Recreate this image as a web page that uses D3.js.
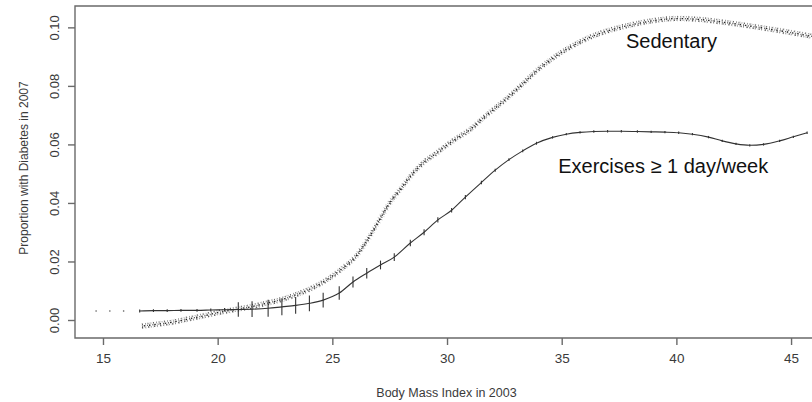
<!DOCTYPE html>
<html>
<head>
<meta charset="utf-8">
<script src="https://cdn.jsdelivr.net/npm/d3@7"></script>
<style>
  html, body { margin: 0; padding: 0; background: #fff; }
  svg { display: block; font-family: "Liberation Sans", Arial, sans-serif; }
</style>
</head>
<body>
<svg id="chart" width="812" height="402"></svg>
<script>
// ---- data ----
const xTicks = [15, 20, 25, 30, 35, 40, 45];
const yTicks = [0.00, 0.02, 0.04, 0.06, 0.08, 0.10];
const yTickLabels = ["0.00", "0.02", "0.04", "0.06", "0.08", "0.10"];

// Sedentary group (BMI 2003 vs proportion diabetic 2007)
const sedBmi = [16.7,17,17.5,18,18.5,19,19.5,20,20.5,21,21.5,22,22.5,23,23.5,24,24.5,25,25.5,26,26.5,27,27.5,28,28.5,29,29.5,30,30.5,31,31.5,32,32.5,33,33.5,34,34.5,35,35.5,36,37,38,39,40,41,42,43,44,45,46];
const sedP = [-0.0021,-0.0018,-0.0013,-0.0008,0.0000,0.0008,0.0016,0.0025,0.0032,0.0039,0.0046,0.0055,0.0064,0.0075,0.0089,0.0105,0.0125,0.0150,0.0180,0.0215,0.0270,0.0335,0.0400,0.0450,0.0500,0.0540,0.0568,0.0598,0.0625,0.0650,0.0685,0.0718,0.0750,0.0785,0.0822,0.0858,0.0888,0.0915,0.0938,0.0958,0.0988,0.1008,0.1023,0.1030,0.1027,0.1018,0.1007,0.0995,0.0982,0.0968];

// Exercises >= 1 day/week group, with vertical error marks
const exBmi = [14.7,15.3,15.9,16.6,17.2,17.8,18.4,19.1,19.7,20.3,20.9,21.5,22.2,22.8,23.4,24.0,24.6,25.3,25.9,26.5,27.1,27.7,28.4,29.0,29.6,30.2,30.8,31.5,32.1,32.7,33.3,33.9,34.6,35.2,35.8,36.4,37.0,37.6,38.3,38.9,39.5,40.1,40.7,41.4,42.0,42.6,43.2,43.8,44.5,45.1,45.7];
const exP = [0.0031,0.0031,0.0031,0.0031,0.0032,0.0032,0.0033,0.0033,0.0034,0.0035,0.0036,0.0037,0.0040,0.0045,0.0050,0.0057,0.0068,0.0092,0.0130,0.0160,0.0188,0.0215,0.0263,0.0300,0.0342,0.0375,0.0420,0.0470,0.0512,0.0548,0.0578,0.0604,0.0624,0.0635,0.0641,0.0644,0.0645,0.0645,0.0644,0.0643,0.0642,0.0640,0.0635,0.0625,0.0612,0.0602,0.0597,0.0600,0.0612,0.0626,0.0640];
const exErr = [0,0,0,0.0005,0.0005,0.0005,0.0005,0.0005,0.0005,0.0006,0.0025,0.0027,0.0029,0.0029,0.0029,0.0027,0.0025,0.0023,0.0019,0.0018,0.0015,0.0013,0.0011,0.0010,0.0009,0.0008,0.0007,0.0006,0.0005,0.0005,0.0005,0.0005,0.0004,0.0004,0.0004,0.0004,0.0004,0.0004,0.0004,0.0004,0.0004,0.0004,0.0004,0.0004,0.0004,0.0004,0.0004,0.0004,0.0004,0.0004,0.0004];
const exDotsOnly = 3; // first points drawn as dots only

const labels = [
  { text: "Sedentary", bmi: 37.8, p: 0.0930 },
  { text: "Exercises \u2265 1 day/week", bmi: 34.85, p: 0.0502 }
];
const xTitle = "Body Mass Index in 2003";
const yTitle = "Proportion with Diabetes in 2007";

// ---- layout ----
const L = 75, T = 6, B = 338, R = 812;
const svg = d3.select("#chart");
const x = d3.scaleLinear().domain([13.78, 46.0]).range([L, 814]);
const y = d3.scaleLinear().domain([-0.00615, 0.1073]).range([B, T]);
const axisColor = "#6a6a6a";
const textColor = "#3a3a3a";

svg.append("defs").append("clipPath").attr("id", "clip")
  .append("rect").attr("x", L).attr("y", T).attr("width", R - L).attr("height", B - T);

const plot = svg.append("g").attr("clip-path", "url(#clip)");

// Sedentary: fuzzy band of points
const sed = sedBmi.map((b, i) => [b, sedP[i]]);
const sedLine = d3.line().x(d => x(d[0])).y(d => y(d[1])).curve(d3.curveMonotoneX);
const sedD = sedLine(sed);
const sedLayers = [
  { stroke: "#999", w: 6, dash: "0.6 3.1", op: 0.45, dy: 0 },
  { stroke: "#444", w: 1.5, dash: "0.9 2.3 0.5 1.9", op: 0.9, dy: -1.9 },
  { stroke: "#444", w: 1.5, dash: "1.2 1.7 0.6 2.6", op: 0.9, dy: 1.7 },
  { stroke: "#222", w: 1.3, dash: "0.7 1.1 1.5 2", op: 1, dy: 0 }
];
plot.selectAll("path.sed").data(sedLayers).join("path").attr("class", "sed")
  .attr("d", sedD).attr("fill", "none")
  .attr("transform", d => `translate(0,${d.dy})`)
  .attr("stroke", d => d.stroke).attr("stroke-width", d => d.w)
  .attr("stroke-dasharray", d => d.dash).attr("opacity", d => d.op);

// Exercise line
const ex = exBmi.map((b, i) => ({ b, p: exP[i], e: exErr[i], i }));
const exLine = d3.line().x(d => x(d.b)).y(d => y(d.p)).curve(d3.curveMonotoneX);
plot.append("path").attr("d", exLine(ex.filter(d => d.i >= exDotsOnly)))
  .attr("fill", "none").attr("stroke", "#333").attr("stroke-width", 1.1);
plot.selectAll("line.err").data(ex.filter(d => d.i >= exDotsOnly)).join("line")
  .attr("class", "err")
  .attr("x1", d => x(d.b)).attr("x2", d => x(d.b))
  .attr("y1", d => y(d.p - d.e)).attr("y2", d => y(d.p + d.e))
  .attr("stroke", "#333").attr("stroke-width", 1.1);
plot.selectAll("circle.dot").data(ex.filter(d => d.i < exDotsOnly)).join("circle")
  .attr("class", "dot")
  .attr("cx", d => x(d.b)).attr("cy", d => y(d.p)).attr("r", 0.8).attr("fill", "#555");

// Frame (left, top, bottom)
svg.append("path")
  .attr("d", `M${R},${T}H${L}V${B}H${R}`)
  .attr("fill", "none").attr("stroke", axisColor).attr("stroke-width", 1.4);

// X axis
const xAxis = svg.append("g").attr("transform", `translate(0,${B})`)
  .call(d3.axisBottom(x).tickValues(xTicks).tickSize(7).tickPadding(8).tickFormat(d3.format("d")));
xAxis.select(".domain").remove();
xAxis.selectAll("line").attr("stroke", axisColor).attr("stroke-width", 1.4);
xAxis.selectAll("text").attr("fill", textColor).attr("font-size", 13.5)
  .attr("font-family", "'Liberation Sans', Arial, sans-serif");

// Y axis
const yAxis = svg.append("g").attr("transform", `translate(${L},0)`)
  .call(d3.axisLeft(y).tickValues(yTicks).tickSize(7).tickFormat((d, i) => yTickLabels[i]));
yAxis.select(".domain").remove();
yAxis.selectAll("line").attr("stroke", axisColor).attr("stroke-width", 1.4);
yAxis.selectAll("text")
  .attr("fill", textColor).attr("font-size", 13)
  .attr("font-family", "'Liberation Sans', Arial, sans-serif")
  .attr("x", null).attr("dy", null)
  .attr("text-anchor", "middle")
  .attr("transform", "translate(-16,0) rotate(-90)");

// Axis titles
svg.append("text").attr("x", (L + R) / 2 + 3).attr("y", 397)
  .attr("text-anchor", "middle").attr("font-size", 12.5).attr("fill", textColor).text(xTitle);
svg.append("text").attr("transform", `translate(28,${168}) rotate(-90)`)
  .attr("text-anchor", "middle").attr("font-size", 12).attr("fill", textColor).text(yTitle);

// Annotations
svg.selectAll("text.lab").data(labels).join("text").attr("class", "lab")
  .attr("x", d => x(d.bmi)).attr("y", d => y(d.p))
  .attr("font-size", 20).attr("fill", "#111").text(d => d.text);
</script>
</body>
</html>
